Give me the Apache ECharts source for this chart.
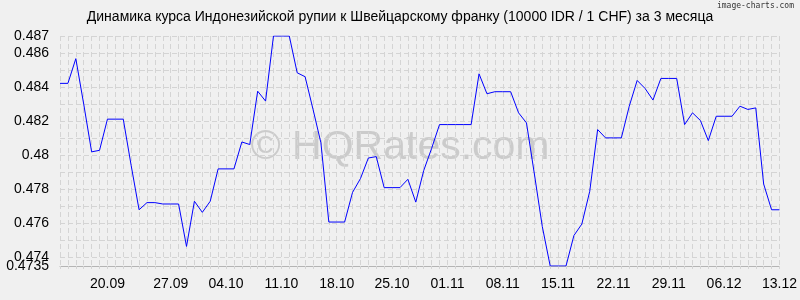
<!DOCTYPE html>
<html>
<head>
<meta charset="utf-8">
<script src="https://cdn.jsdelivr.net/npm/echarts@6/dist/echarts.min.js"></script>
<style>
html,body{margin:0;padding:0;background:#f0f0f0;}
#c{width:800px;height:300px;}
</style>
</head>
<body>
<div id="c"></div>
<script>
const titleText = 'Динамика курса Индонезийской рупии к Швейцарскому франку (10000 IDR / 1 CHF) за 3 месяца';
const rates = [
  0.48422, 0.48422, 0.48567, 0.4830, 0.4802, 0.48029, 0.48212, 0.48212, 0.48212, 0.4794,
  0.4768, 0.47722, 0.47722, 0.47714, 0.47714, 0.47714, 0.47465, 0.4773, 0.47665, 0.4773,
  0.4792, 0.4792, 0.4792, 0.48078, 0.48063, 0.48376, 0.48318, 0.487, 0.487, 0.487,
  0.48484, 0.48461, 0.4827, 0.48073, 0.47608, 0.47608, 0.47608, 0.47782, 0.47863, 0.47984,
  0.47992, 0.4781, 0.4781, 0.4781, 0.47859, 0.47725, 0.4791, 0.4804, 0.4818, 0.4818,
  0.4818, 0.4818, 0.4818, 0.48478, 0.48361, 0.48373, 0.48373, 0.48373, 0.48249, 0.4819,
  0.4789, 0.47582, 0.4735, 0.4735, 0.4735, 0.47529, 0.47596, 0.47788, 0.48151, 0.48102,
  0.48102, 0.48102, 0.48288, 0.48439, 0.48392, 0.48324, 0.48451, 0.48451, 0.48451, 0.4818,
  0.48249, 0.48204, 0.48086, 0.48229, 0.48229, 0.48229, 0.48288, 0.48269, 0.48278, 0.47831,
  0.4768, 0.4768
];
const tickIndex = [6, 14, 21, 28, 35, 42, 49, 56, 63, 70, 77, 84, 91];
const tickLabels = ['20.09','27.09','04.10','11.10','18.10','25.10','01.11','08.11','15.11','22.11','29.11','06.12','13.12'];
const yLabelValues = [0.474, 0.476, 0.478, 0.48, 0.482, 0.484, 0.486, 0.487];
const yLabelTexts = ['0.474','0.476','0.478','0.48','0.482','0.484','0.486','0.487'];
const yMinLabelText = '0.4735';
const yMin = 0.4735, yMax = 0.487, yStep = 0.0005;

// categories: one per day, 13.09 .. 13.12
const categories = [];
{
  const d = new Date(2024, 8, 13);
  for (let i = 0; i < rates.length; i++) {
    const dd = String(d.getDate()).padStart(2,'0');
    const mm = String(d.getMonth()+1).padStart(2,'0');
    categories.push(dd + '.' + mm);
    d.setDate(d.getDate()+1);
  }
}

const chart = echarts.init(document.getElementById('c'), null, {renderer:'canvas'});
const font = 'Liberation Sans, Arial, sans-serif';
const labelFmt = (v) => {
  for (let k = 0; k < yLabelValues.length; k++) if (Math.abs(v - yLabelValues[k]) < 1e-7) return yLabelTexts[k];
  return '';
};
chart.setOption({
  backgroundColor: '#f0f0f0',
  animation: false,
  grid: {left: 60, right: 20, top: 36, height: 230},
  graphic: [
    {type:'text', x: 400, y: 17, z: 10,
     style:{text: titleText, font: '14px ' + font, fill:'#000', align:'center', verticalAlign:'middle'}},
    {type:'text', right: 6, top: 2, z: 10,
     style:{text: 'image-charts.com', font: '8px DejaVu Sans Mono, monospace', fill:'#333'}},
    {type:'text', x: 400, y: 148, z: 0,
     style:{text: '© HQRates.com', font: '41px ' + font, fill:'#cbcbcb', align:'center', verticalAlign:'middle'}}
  ],
  xAxis: {
    type: 'category',
    data: categories,
    boundaryGap: false,
    axisLine: {show: true, lineStyle: {color: '#b4b4b4', width: 1}},
    axisTick: {show: true, interval: 0, length: 5, lineStyle: {color: '#d4d4d4', type: [3,2]}},
    axisLabel: {
      interval: (idx) => tickIndex.indexOf(idx) >= 0,
      formatter: (v, idx) => { const k = tickIndex.indexOf(idx); return k >= 0 ? tickLabels[k] : ''; },
      color: '#000', fontSize: 14, fontFamily: font, margin: 11
    },
    splitLine: {show: true, interval: 0, lineStyle: {color: '#d4d4d4', type: [5,3], width: 1}}
  },
  yAxis: [{
    type: 'value',
    min: yMin, max: yMax, interval: yStep,
    position: 'left',
    axisLine: {show: false},
    axisTick: {show: false},
    axisLabel: {
      showMinLabel: false, showMaxLabel: true, hideOverlap: false,
      formatter: labelFmt,
      color: '#000', fontSize: 14, fontFamily: font, margin: 11
    },
    splitLine: {show: true, lineStyle: {color: ['transparent', '#d4d4d4'], type: [5,3], width: 1}}
  }, {
    type: 'value',
    min: yMin, max: yMax, interval: yStep,
    position: 'left', offset: 0,
    axisLine: {show: false},
    axisTick: {show: false},
    splitLine: {show: false},
    axisLabel: {
      showMinLabel: true, showMaxLabel: false,
      formatter: (v) => Math.abs(v - yMin) < 1e-7 ? yMinLabelText : '',
      color: '#000', fontSize: 14, fontFamily: font, margin: 11
    }
  }],
  series: [{
    type: 'line',
    data: rates,
    yAxisIndex: 0,
    symbol: 'none',
    lineStyle: {color: '#0000ff', width: 1},
    z: 5
  }]
});
</script>
</body>
</html>
